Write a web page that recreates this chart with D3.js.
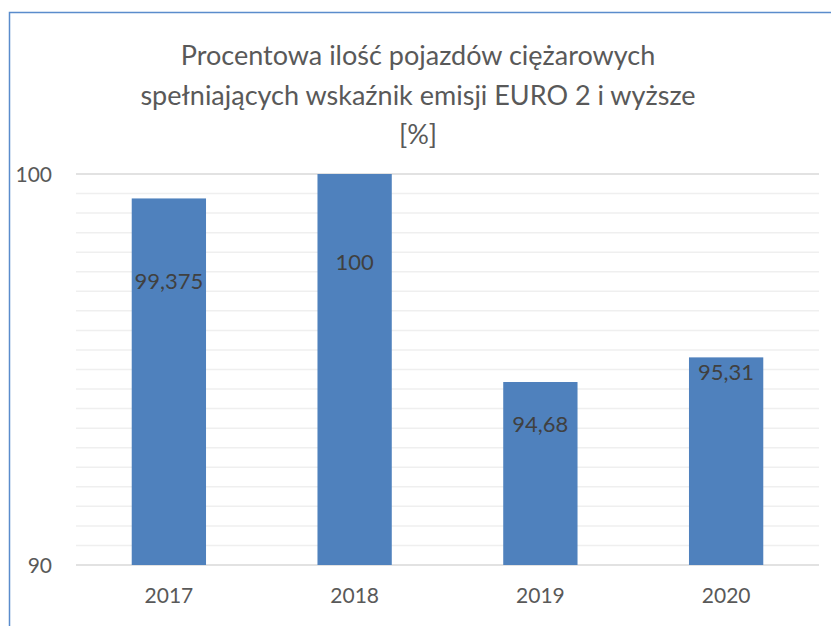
<!DOCTYPE html>
<html><head><meta charset="utf-8">
<script src="https://cdn.jsdelivr.net/npm/d3@7"></script>
<style>body{margin:0;background:#fff}svg{display:block}</style>
</head><body>
<script>
const categories = ["2017", "2018", "2019", "2020"];
const values = [99.375, 100, 94.68, 95.31];
const valueLabels = ["99,375", "100", "94,68", "95,31"];
const labelAt = [97.26, 97.75, 93.6, 94.94];   // where each data label sits (value units)
const yTicks = [90, 100];
const minorTicks = d3.range(90.5, 100, 0.5);
const titleLines = ["Procentowa ilość pojazdów ciężarowych", "spełniających wskaźnik emisji EURO 2 i wyższe", "[%]"];

const W = 831, H = 626;
const svg = d3.select("body").append("svg").attr("width", W).attr("height", H);
const font = "Lato, 'Open Sans', sans-serif";

// outer frame (top and left visible)
svg.append("path").attr("d", `M9.5,${H} V12.5 H${W}`).attr("fill", "none")
  .attr("stroke", "#5a8ccc").attr("stroke-width", 1.5);

const x0 = 76, x1 = 819, yTop = 174, yBot = 565;
const x = d3.scaleBand().domain(categories).range([x0, x1]).paddingInner(0.6).paddingOuter(0.3);
const y = d3.scaleLinear().domain([90, 100]).range([yBot, yTop]);

// minor gridlines
svg.append("g").selectAll("line").data(minorTicks).join("line")
  .attr("x1", x0).attr("x2", x1).attr("y1", d => y(d)).attr("y2", d => y(d))
  .attr("stroke", "#efefef").attr("stroke-width", 1.5);

// major gridlines
svg.append("g").selectAll("line").data(yTicks).join("line")
  .attr("x1", x0).attr("x2", x1).attr("y1", d => y(d)).attr("y2", d => y(d))
  .attr("stroke", "#d9d9d9").attr("stroke-width", 1.5);

// bars
svg.append("g").selectAll("rect").data(values).join("rect")
  .attr("x", (d, i) => x(categories[i])).attr("width", x.bandwidth())
  .attr("y", d => y(d)).attr("height", d => y(90) - y(d))
  .attr("fill", "#4f81bd");

// data labels
svg.append("g").selectAll("text").data(valueLabels).join("text")
  .attr("x", (d, i) => x(categories[i]) + x.bandwidth() / 2)
  .attr("y", (d, i) => y(labelAt[i]))
  .attr("dy", "0.35em").attr("text-anchor", "middle")
  .attr("font-family", font).attr("font-size", 22).attr("fill", "#404040")
  .text(d => d);

// y axis
const yAxis = d3.axisLeft(y).tickValues(yTicks).tickSize(0).tickPadding(0).tickFormat(d3.format("d"));
const gy = svg.append("g").attr("transform", `translate(52,0)`).call(yAxis);
gy.select(".domain").remove();
gy.selectAll("text").attr("font-family", font).attr("font-size", 21).attr("fill", "#595959").attr("dy", "0.35em");

// x axis
const xAxis = d3.axisBottom(x).tickSize(0).tickPadding(0);
const gx = svg.append("g").attr("transform", `translate(0,${603})`).call(xAxis);
gx.select(".domain").remove();
gx.selectAll("text").attr("font-family", font).attr("font-size", 21).attr("fill", "#595959").attr("dy", 0);

// title
svg.append("g").selectAll("text").data(titleLines).join("text")
  .attr("x", 418).attr("y", (d, i) => 65 + i * 39.5)
  .attr("text-anchor", "middle").attr("font-family", font).attr("font-size", 27)
  .attr("fill", "#595959").text(d => d);
</script>
</body></html>
